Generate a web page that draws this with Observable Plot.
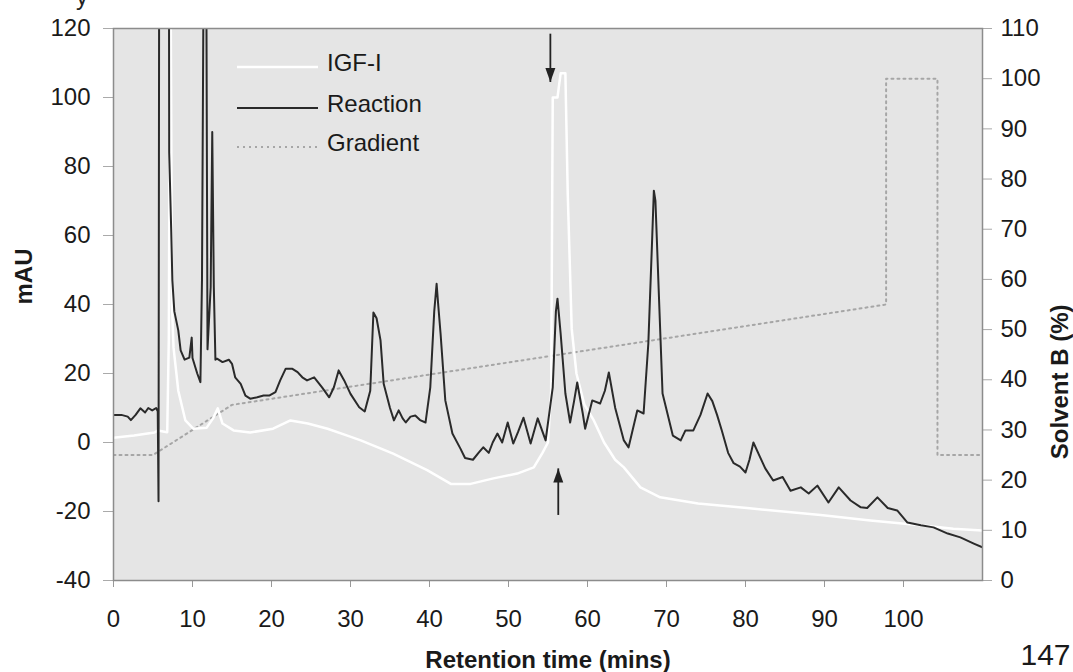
<!DOCTYPE html>
<html><head><meta charset="utf-8">
<script src="https://cdn.jsdelivr.net/npm/d3@7"></script>
<script src="https://cdn.jsdelivr.net/npm/@observablehq/plot@0.6"></script>
<style>
body{margin:0;background:#fff;font-family:"Liberation Sans",Arial,sans-serif;}
#wrap{position:relative;width:1073px;height:672px;overflow:hidden;}
#frag{position:absolute;left:76px;top:-17px;font-size:24px;color:#222;}
</style></head><body><div id="wrap"><div id="frag">y</div></div>
<script>
// ---- data ----
const reactionTime = [0,1.0,1.8,2.2,2.8,3.4,4.0,4.4,4.9,5.4,5.6,5.7,5.8,7.0,7.05,7.3,7.45,7.7,8.2,8.5,9.0,9.6,9.9,10.0,10.6,11.0,11.2,11.4,11.75,11.9,12.3,12.5,12.7,12.9,13.1,13.8,14.6,15.0,15.4,16.1,16.7,17.3,18.2,19.0,19.7,20.5,21.1,21.8,22.6,23.3,23.9,24.5,25.4,26.4,27.3,27.9,28.5,29.2,30.0,31.1,31.8,32.5,32.9,33.3,33.8,34.2,35.0,35.5,36.1,36.6,37.0,37.6,38.2,38.8,39.5,40.1,40.6,40.9,41.1,41.4,42.0,42.9,43.9,44.5,45.5,46.2,46.8,47.5,48.0,48.6,49.2,49.9,50.6,51.2,51.9,52.8,53.7,54.7,55.6,56.0,56.2,56.6,57.2,57.8,58.3,58.7,59.4,59.7,60.6,61.6,62.2,62.7,63.5,64.6,65.2,66.3,67.1,67.7,68.2,68.4,68.6,69.0,69.5,70.8,71.8,72.4,73.4,74.3,75.2,75.8,76.4,77.0,77.8,78.5,79.3,80.0,80.5,81.0,81.8,82.5,83.5,84.7,85.7,87.0,88.0,89.1,90.5,91.8,93.3,94.6,95.4,96.7,98.0,99.2,100.5,102.2,103.8,105.6,107.2,108.9,110];
const reactionMAU = [8,8,7.5,6.5,8,9.9,8.7,10,9.3,10,9,-17,180,180,84,62,47,38,32.5,26.7,24,24.6,30.4,24.5,20,17.5,47,135,135,27,45,90,45,24,24.3,23.3,24.0,22.8,18.9,17.0,13.6,12.7,13.1,13.6,13.6,14.6,18,21.4,21.4,20.4,18.9,18,18.9,16,13.1,16,20.9,18,14.1,10.2,9,15,37.7,36,29.6,17,10,6.4,9.3,7,5.8,7.5,7.8,6.5,5.8,16,38,46,40,31.6,12.2,2.6,-1.7,-4.5,-5,-3,-1.4,-3,0,2.6,0,5.8,-0.3,3,7.2,-0.3,7,0.6,16,38,41.7,31.6,14.2,5.8,12,17.4,8.4,4,12.2,11.3,15,20.3,10.1,0.6,-1.4,9.3,8.4,28.7,60,73,70,45,14.2,2,0.6,3.5,3.5,8,14.2,12,8,3.5,-3,-6,-7,-8.7,-5,0,-4,-7.5,-11,-10,-14,-13,-14.8,-12.5,-17.4,-13,-16.8,-18.8,-19,-15.9,-19,-19.7,-23.2,-24,-24.6,-26.4,-27.5,-29.3,-30.4];

const igfTime = [0,2.6,5.2,5.6,6.8,7.0,7.2,7.4,7.6,8.2,9.1,10.1,11.8,12.6,13.2,13.8,15.2,17.3,20.2,22.4,24.6,27.1,29.6,31.3,35.4,39.7,42.7,45.2,48.1,51.1,53.2,54.3,55.0,55.4,55.6,56.2,56.6,57.2,57.5,58.0,58.6,59.6,60.8,62.1,63.5,64.6,66.7,69.2,74.0,80.2,89.5,95.8,102.2,106.3,110];
const igfMAU = [1.4,2,2.9,3.5,3,30,150,40,27.5,15,6.4,4,4.3,7,9.9,5.5,3.5,2.9,4,6.4,5.5,4,2,0.6,-3.2,-8,-12,-12,-10.4,-9,-7.2,-3,0,15,100,100,107,107,72,33,20,11,6.4,0,-5,-7.2,-13,-15.9,-17.7,-19,-21,-22.6,-24,-25,-25.5];

const gradientTime = [0,5,15,97.8,97.8,104.3,104.3,110];
const gradientB    = [25,25,35,55,100,100,25,25];

const xTicks = [0,10,20,30,40,50,60,70,80,90,100];
const yTicks = [-40,-20,0,20,40,60,80,100,120];
const bTicks = [0,10,20,30,40,50,60,70,80,90,100,110];

// arrows marking the IGF-I peak
const arrowTime = [55.3, 56.3];
const arrowFrom = [118.5, -21];
const arrowTo   = [104.5, -7.5];

const legendLabels = ["IGF-I","Reaction","Gradient"];

// ---- helpers ----
const Y_MIN = -40, Y_MAX = 120, B_MAX = 110;
const toLeft = b => Y_MIN + b * (Y_MAX - Y_MIN) / B_MAX;
const fromLeft = v => String(Math.round((v - Y_MIN) * B_MAX / (Y_MAX - Y_MIN)));

const reaction = reactionTime.map((t,i) => ({t, v: reactionMAU[i]}));
const igf = igfTime.map((t,i) => ({t, v: igfMAU[i]}));
const gradient = gradientTime.map((t,i) => ({t, b: gradientB[i]}));
const arrows = arrowTime.map((t,i) => ({t, from: arrowFrom[i], to: arrowTo[i]}));

const headUp = {draw(ctx){ ctx.moveTo(0,0); ctx.lineTo(-5,14); ctx.lineTo(5,14); ctx.closePath(); }};
const headDown = {draw(ctx){ ctx.moveTo(0,0); ctx.lineTo(-5,-14); ctx.lineTo(5,-14); ctx.closePath(); }};

const FONT = "Liberation Sans, Arial, sans-serif";

const chart = Plot.plot({
  width: 1073, height: 672,
  marginLeft: 113, marginRight: 91, marginTop: 28, marginBottom: 92,
  style: {fontFamily: FONT, fontSize: "24px", color: "#1a1a1a", background: "#fff", overflow: "visible"},
  x: {domain: [0, 110]},
  y: {domain: [Y_MIN, Y_MAX]},
  marks: [
    Plot.frame({fill: "#e5e5e5", stroke: "none"}),
    Plot.axisX({ticks: xTicks, tickFormat: d => String(d), tickSize: 7, tickPadding: 22, label: null, stroke: "#999", fill: "#1a1a1a"}),
    Plot.axisY({ticks: yTicks, tickFormat: d => String(d), anchor: "left", tickSize: 10, tickPadding: 13, label: null, stroke: "#aaa", fill: "#1a1a1a"}),
    Plot.axisY({ticks: bTicks.map(toLeft), tickFormat: fromLeft, anchor: "right", tickSize: 9, tickPadding: 9, label: null, stroke: "#aaa", fill: "#1a1a1a"}),
    Plot.line(gradient, {x: "t", y: d => toLeft(d.b), stroke: "#a6a6a6", strokeWidth: 2, strokeDasharray: "2,4", clip: true}),
    Plot.line(igf, {x: "t", y: "v", stroke: "#ffffff", strokeWidth: 2.5, clip: true}),
    Plot.line(reaction, {x: "t", y: "v", stroke: "#2a2a2a", strokeWidth: 2, clip: true}),
    Plot.link(arrows, {x1: "t", x2: "t", y1: "from", y2: "to", stroke: "#222", strokeWidth: 1.8}),
    Plot.dot(arrows.filter(d => d.to > d.from), {x: "t", y: "to", symbol: headUp, fill: "#222", stroke: "none"}),
    Plot.dot(arrows.filter(d => d.to < d.from), {x: "t", y: "to", symbol: headDown, fill: "#222", stroke: "none"}),
    Plot.frame({stroke: "#8c8c8c", strokeWidth: 1.5}),
    Plot.text(["mAU"], {frameAnchor: "left", dx: -89, rotate: -90, fontWeight: "bold", fontSize: 24, lineAnchor: "middle"}),
    Plot.text(["Solvent B (%)"], {frameAnchor: "right", dx: 78, rotate: -90, fontWeight: "bold", fontSize: 24, lineAnchor: "middle"}),
    Plot.text(["Retention time (mins)"], {frameAnchor: "bottom", dy: 80, fontWeight: "bold", fontSize: 24, lineAnchor: "middle"}),
    Plot.text(["147"], {frameAnchor: "bottom-right", dx: 63, dy: 75, fontSize: 30, lineAnchor: "middle", textAnchor: "middle"})
  ]
});

document.getElementById("wrap").appendChild(chart);

// legend (inside plot area, top-left)
const svg = d3.select(chart);
const lg = svg.append("g").attr("font-family", FONT).attr("font-size", 24).attr("fill", "#1a1a1a").attr("text-anchor", "start");
const legendStyles = [
  {stroke: "#ffffff", dash: null, width: 2.5},
  {stroke: "#2a2a2a", dash: null, width: 2},
  {stroke: "#a6a6a6", dash: "2,4", width: 2}
];
const legendRowY = [67, 108, 147];
legendLabels.forEach((label, i) => {
  const s = legendStyles[i];
  lg.append("line").attr("x1", 237).attr("x2", 318).attr("y1", legendRowY[i]).attr("y2", legendRowY[i])
    .attr("stroke", s.stroke).attr("stroke-width", s.width).attr("stroke-dasharray", s.dash);
  lg.append("text").attr("x", 327).attr("y", legendRowY[i] - 4).attr("dy", "0.35em").attr("text-anchor", "start").text(label);
});
</script>
</body></html>
